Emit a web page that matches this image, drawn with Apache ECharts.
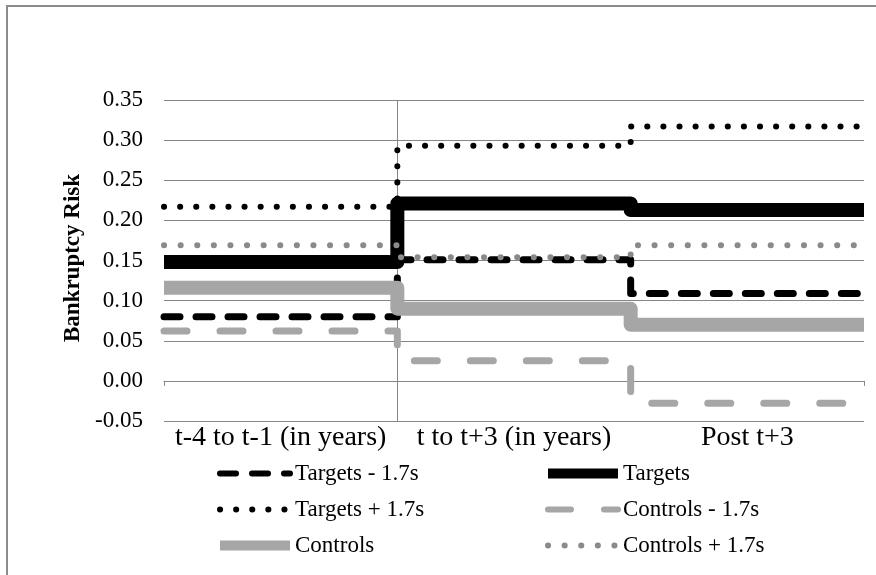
<!DOCTYPE html>
<html>
<head>
<meta charset="utf-8">
<title>Bankruptcy Risk</title>
<script src="https://cdn.jsdelivr.net/npm/echarts@6/dist/echarts.min.js"></script>
<style>
  html, body { margin: 0; padding: 0; background: #fff; }
  #chart { width: 876px; height: 575px; }
</style>
</head>
<body>
<div id="chart"></div>
<script>
// periods on the x axis
const periods = ['t-4 to t-1 (in years)', 't to t+3 (in years)', 'Post t+3'];

// y axis ticks
const yMin = -0.05;
const yMax = 0.35;
const yStep = 0.05;

// one value per period
const targetsLow = [0.080, 0.151, 0.109];
const targets = [0.148, 0.221, 0.213];
const targetsHigh = [0.217, 0.293, 0.317];
const controlsLow = [0.062, 0.025, -0.028];
const controls = [0.116, 0.090, 0.070];
const controlsHigh = [0.169, 0.154, 0.169];

const serif = '"Liberation Serif", "Times New Roman", serif';
const gridGrey = '#868686';

// flat value over each period, stepping at the period boundary
function stepData(vals) {
    const pts = vals.map((v, i) => [i, v]);
    pts.push([vals.length, vals[vals.length - 1]]);
    return pts;
}

function stepLine(name, vals, color, width, dash) {
    return {
        name: name,
        type: 'line',
        xAxisIndex: 1,
        step: 'end',
        symbol: 'none',
        silent: true,
        data: stepData(vals),
        itemStyle: {color: color},
        lineStyle: {color: color, width: width, type: dash || 'solid', cap: dash ? 'round' : 'butt', join: 'round'}
    };
}

const legendText = {fontFamily: serif, fontSize: 23, color: '#000'};
const legendBase = {
    orient: 'vertical',
    top: 462,
    padding: 0,
    itemWidth: 70,
    itemHeight: 14,
    itemGap: 13,
    selectedMode: false,
    textStyle: legendText,
    itemStyle: {opacity: 0},
    lineStyle: {width: 'inherit'}
};

const myChart = echarts.init(document.getElementById('chart'));
myChart.setOption({
    animation: false,
    backgroundColor: '#fff',
    graphic: [{
        type: 'rect',
        silent: true,
        shape: {x: 7, y: 6, width: 900, height: 600},
        style: {fill: 'none', stroke: '#8c8c8c', lineWidth: 2}
    }],
    grid: {left: 164, right: 12, top: 100, bottom: 154, containLabel: false, outerBoundsMode: 'none'},
    legend: [Object.assign({}, legendBase, {
        left: 215,
        data: [
            {name: 'Targets - 1.7s', lineStyle: {width: 6}},
            {name: 'Targets + 1.7s', lineStyle: {width: 6}},
            {name: 'Controls', lineStyle: {width: 10}}
        ]
    }), Object.assign({}, legendBase, {
        left: 543,
        data: [
            {name: 'Targets', lineStyle: {width: 10}},
            {name: 'Controls - 1.7s', lineStyle: {width: 6}},
            {name: 'Controls + 1.7s', lineStyle: {width: 6}}
        ]
    })],
    xAxis: [{
        type: 'category',
        data: periods,
        boundaryGap: true,
        axisLine: {show: false, onZero: false},
        axisTick: {show: false},
        splitLine: {show: false},
        axisLabel: {interval: 0, margin: 3, fontFamily: serif, fontSize: 28, color: '#000'}
    }, {
        type: 'value',
        min: 0,
        max: periods.length,
        interval: 1,
        position: 'bottom',
        axisLine: {show: true, onZero: true, lineStyle: {color: gridGrey, width: 1}},
        axisTick: {show: true, length: 5, lineStyle: {color: gridGrey}},
        axisLabel: {show: false},
        splitLine: {
            show: true,
            lineStyle: {color: ['rgba(0,0,0,0)', gridGrey, 'rgba(0,0,0,0)', 'rgba(0,0,0,0)'], width: 1}
        }
    }],
    yAxis: {
        type: 'value',
        min: yMin,
        max: yMax,
        interval: yStep,
        name: 'Bankruptcy Risk',
        nameLocation: 'middle',
        nameGap: 75,
        nameRotate: 90,
        nameTextStyle: {fontFamily: serif, fontWeight: 'bold', fontSize: 23, color: '#000', padding: [0, 0, 0, 5]},
        axisLine: {show: false},
        axisTick: {show: false},
        axisLabel: {
            margin: 21,
            fontFamily: serif,
            fontSize: 23,
            color: '#000',
            formatter: function (v) { return v.toFixed(2); }
        },
        splitLine: {show: true, lineStyle: {color: gridGrey, width: 1}}
    },
    series: [
        stepLine('Targets - 1.7s', targetsLow, '#000000', 7, [16, 16]),
        stepLine('Targets', targets, '#000000', 14),
        stepLine('Targets + 1.7s', targetsHigh, '#000000', 6, [0.1, 16]),
        stepLine('Controls - 1.7s', controlsLow, '#a6a6a6', 7, [23, 33]),
        stepLine('Controls', controls, '#a6a6a6', 14),
        stepLine('Controls + 1.7s', controlsHigh, '#8a8a8a', 6, [0.1, 16.5])
    ]
});
</script>
</body>
</html>
